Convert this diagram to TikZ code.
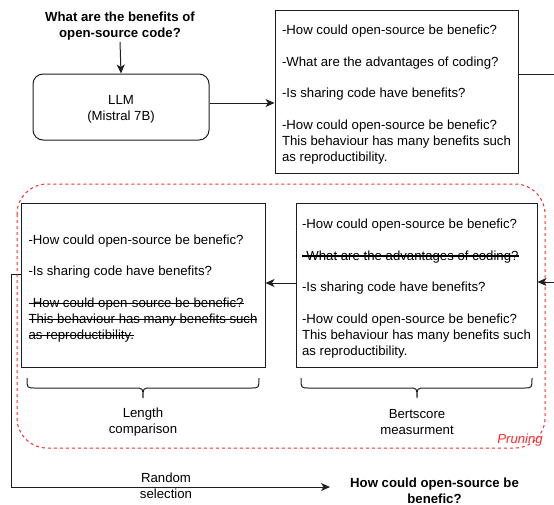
\documentclass[tikz,border=0pt]{standalone}
\usepackage{fontspec}
\setmainfont{Liberation Sans}
\usetikzlibrary{arrows.meta}
\newcommand{\dfont}{\fontsize{13.2}{16}\selectfont}
\newsavebox{\strkbox}
\newcommand{\strk}[1]{\sbox{\strkbox}{#1}\rlap{\rule[0.27em]{\wd\strkbox}{1.2pt}}\usebox{\strkbox}}
\definecolor{prunered}{RGB}{255,40,40}
\definecolor{linegray}{RGB}{30,30,30}
\begin{document}
\begin{tikzpicture}[x=1pt,y=-1pt,
  tbox/.style={draw=linegray, line width=1pt, rectangle, inner sep=0pt},
  ttext/.style={align=left, font=\dfont, inner sep=0pt},
  llmbox/.style={draw=linegray, line width=1pt, rectangle, rounded corners=10pt, minimum width=176, minimum height=66},
  lbl/.style={align=center, font=\dfont, inner sep=1pt},
  boldlbl/.style={align=center, font=\dfont\bfseries, inner sep=1pt},
  arr/.style={draw=linegray, line width=1pt, -{Stealth[length=9pt,width=8pt,inset=2.5pt]}},
  bracestyle/.style={draw=linegray, line width=1pt},
  prune/.style={draw=prunered, line width=1pt, dash pattern=on 3pt off 3pt, rounded corners=30pt}
]
\path[use as bounding box, clip] (0,0) rectangle (554,504);

% title and LLM
\node[boldlbl] (title) at (120,26.5) {What are the benefits of\\open-source code?};
\node[llmbox] (llm) at (121,107) {};
\node[lbl] (llmtxt) at ([yshift=-2.5pt]llm.center) {LLM\\(Mistral 7B)};

% generated box
\node[tbox, minimum width=243, minimum height=163] (box1) at (396.5,91.5) {};
\node[ttext] (box1t) at ([yshift=-3pt]box1.center)
 {-How could open-source be benefic?\\[15.5pt]
  -What are the advantages of coding?\\[15.5pt]
  -Is sharing code have benefits?\\[15.5pt]
  -How could open-source be benefic?\\
  This behaviour has many benefits such\\
  as reproductibility.};

% pruning region
\draw[prune] (17,184) rectangle (545,448);

% bertscore box
\node[tbox, minimum width=241, minimum height=164] (box2) at (416.5,285) {};
\node[ttext] (box2t) at ([yshift=-3.5pt]box2.center)
 {-How could open-source be benefic?\\[15.5pt]
  \strk{-What are the advantages of coding?}\\[15.5pt]
  -Is sharing code have benefits?\\[15.5pt]
  -How could open-source be benefic?\\
  This behaviour has many benefits such\\
  as reproductibility.};

% length box
\node[tbox, minimum width=244, minimum height=164] (box3) at (143,285) {};
\node[ttext] (box3t) at ([yshift=-3.5pt]box3.center)
 {-How could open-source be benefic?\\[15.5pt]
  -Is sharing code have benefits?\\[15.5pt]
  \strk{-How could open-source be benefic?}\\
  \strk{This behaviour has many benefits such}\\
  \strk{as reproductibility.}};

% braces
\draw[bracestyle] (27,378) .. controls (27,388) .. (35,388) -- (135,388) .. controls (143,388) .. (143,398)
  .. controls (143,388) .. (151,388) -- (251,388) .. controls (259,388) .. (259,378);
\draw[bracestyle] (301,378) .. controls (301,388) .. (309,388) -- (409,388) .. controls (417,388) .. (417,398)
  .. controls (417,388) .. (425,388) -- (524,388) .. controls (532,388) .. (532,378);

\node[lbl] (lenlbl) at (143,422.5) {Length\\comparison};
\node[lbl] (bertlbl) at (417,422.5) {Bertscore\\measurment};
\node[font=\dfont\itshape, text=prunered, anchor=east, inner sep=0pt] (prunelbl) at (543,440.5) {Pruning};

% result
\node[boldlbl, inner sep=0pt] (result) at (434.5,491) {How could open-source be\\benefic?};
\node[lbl] (randlbl) at (166,486) {Random\\selection};

% connectors
\draw[arr] (title.south) -- (llm.north);
\draw[arr] ([yshift=4pt]llm.east) -- ([yshift=4pt]llm.east -| box1.west);
\coordinate (outR) at (600,74);
\draw[arr] ([yshift=17.5pt]box1.east) -- (outR) |- ([yshift=3pt]box2.east);
\draw[arr] ([yshift=2pt]box2.west) -- ([yshift=2pt]box3.east);
\coordinate (rl) at (11,487);
\coordinate (rend) at (330,487);
\draw[arr] ([yshift=11pt]box3.west) -| (rl) -- (rend);
\end{tikzpicture}
\end{document}
